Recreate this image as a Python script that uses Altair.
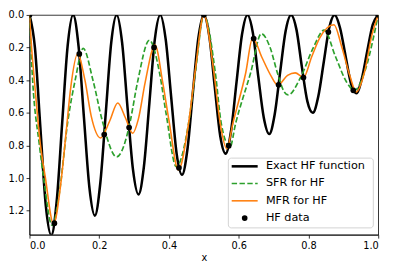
import altair as alt
import pandas as pd

# ---- data ----
x_exact = [0.0, 0.0156, 0.0312, 0.0469, 0.0625, 0.0781, 0.0938, 0.1094,
           0.125, 0.1406, 0.1562, 0.1719, 0.1875, 0.2031, 0.2188, 0.2344,
           0.25, 0.2656, 0.2812, 0.2969, 0.3125, 0.3281, 0.3438, 0.3594,
           0.375, 0.3906, 0.4062, 0.4219, 0.4375, 0.4531, 0.4688, 0.4844,
           0.5, 0.5156, 0.5312, 0.5469, 0.5625, 0.5781, 0.5938, 0.6094,
           0.625, 0.6406, 0.6562, 0.6719, 0.6875, 0.7031, 0.7188, 0.7344,
           0.75, 0.7656, 0.7812, 0.7969, 0.8125, 0.8281, 0.8438, 0.8594,
           0.875, 0.8906, 0.9062, 0.9219, 0.9375, 0.9531, 0.9688, 0.9844,
           1.0]
y_exact = [0, 0.20, 0.69, 1.17, 1.35, 1.14, 0.66, 0.19,
           0, 0.19, 0.63, 1.06, 1.23, 1.03, 0.60, 0.17,
           0, 0.17, 0.57, 0.95, 1.10, 0.93, 0.54, 0.15,
           0, 0.15, 0.50, 0.85, 0.98, 0.82, 0.47, 0.14,
           0, 0.13, 0.44, 0.74, 0.85, 0.71, 0.41, 0.12,
           0, 0.11, 0.38, 0.63, 0.73, 0.61, 0.35, 0.10,
           0, 0.09, 0.32, 0.53, 0.60, 0.50, 0.29, 0.08,
           0, 0.08, 0.25, 0.42, 0.48, 0.39, 0.22, 0.06,
           0]

x_sfr = [0.0, 0.004, 0.009, 0.028, 0.040, 0.065, 0.085, 0.11, 0.131, 0.154,
         0.182, 0.209, 0.25, 0.278, 0.289, 0.31, 0.344, 0.373, 0.392, 0.421,
         0.456, 0.477, 0.5, 0.533, 0.55, 0.575, 0.591, 0.634, 0.665, 0.69,
         0.711, 0.73, 0.742, 0.777, 0.814, 0.845, 0.878, 0.91, 0.932, 0.96,
         0.992, 1.0]
y_sfr = [0.0, 0.2, 0.40, 0.79, 0.99, 1.29, 1.10, 0.65, 0.40, 0.205,
         0.40, 0.65, 0.87, 0.75, 0.65, 0.41, 0.155, 0.356, 0.608, 0.93,
         0.666, 0.33, 0.0, 0.356, 0.666, 0.81, 0.666, 0.356, 0.115, 0.2,
         0.356, 0.47, 0.49, 0.385, 0.2, 0.093, 0.258, 0.414, 0.462, 0.356,
         0.083, 0.0]

x_mfr = [0.0, 0.006, 0.014, 0.031, 0.045, 0.069, 0.09, 0.105, 0.118, 0.138,
         0.159, 0.177, 0.204, 0.23, 0.253, 0.275, 0.296, 0.312, 0.332, 0.36,
         0.382, 0.40, 0.427, 0.456, 0.476, 0.5, 0.529, 0.547, 0.566, 0.583,
         0.62, 0.64, 0.666, 0.693, 0.712, 0.74, 0.762, 0.786, 0.809, 0.832,
         0.873, 0.896, 0.919, 0.937, 0.96, 0.982, 1.0]
y_mfr = [0.0, 0.2, 0.40, 0.79, 0.99, 1.28, 1.03, 0.72, 0.45, 0.24,
         0.40, 0.62, 0.754, 0.65, 0.54, 0.63, 0.725, 0.64, 0.41, 0.184,
         0.414, 0.647, 0.95, 0.666, 0.33, 0.0, 0.356, 0.666, 0.82, 0.666,
         0.356, 0.14, 0.258, 0.375, 0.43, 0.37, 0.355, 0.383, 0.258, 0.142,
         0.06, 0.2, 0.375, 0.472, 0.356, 0.122, 0.0]

x_data = [0.0, 0.0714, 0.1429, 0.2143, 0.2857, 0.3571, 0.4286, 0.5,
          0.5714, 0.6429, 0.7143, 0.7857, 0.8571, 0.9286, 1.0]
y_data = [0.0, 1.276, 0.239, 0.733, 0.690, 0.199, 0.937, 0.0,
          0.801, 0.145, 0.428, 0.384, 0.105, 0.462, 0.0]

legend_labels = ["Exact HF function", "SFR for HF", "MFR for HF", "HF data"]
x_ticks = [0.0, 0.2, 0.4, 0.6, 0.8, 1.0]
y_ticks = [0.0, 0.2, 0.4, 0.6, 0.8, 1.0, 1.2]

FONT = "DejaVu Sans"
W, H = 357, 225

df_exact = pd.DataFrame({"x": x_exact, "y": y_exact})
df_sfr = pd.DataFrame({"x": x_sfr, "y": y_sfr})
df_mfr = pd.DataFrame({"x": x_mfr, "y": y_mfr})
df_data = pd.DataFrame({"x": x_data, "y": y_data})

xs = alt.Scale(domain=[0, 1], nice=False, zero=False)
ys = alt.Scale(domain=[0, 1.347], reverse=True, nice=False, zero=False)
xax = alt.Axis(values=x_ticks, format=".1f", title="x")
yax = alt.Axis(values=y_ticks, format=".1f", title=None)

X = alt.X("x:Q", scale=xs, axis=xax)
Y = alt.Y("y:Q", scale=ys, axis=yax)

exact = alt.Chart(df_exact).mark_line(
    color="black", strokeWidth=2.6, interpolate="monotone", clip=True
).encode(x=X, y=Y)
sfr = alt.Chart(df_sfr).mark_line(
    color="#2ca02c", strokeWidth=1.7, strokeDash=[5.5, 2.5],
    interpolate="monotone", clip=True
).encode(x=X, y=Y)
mfr = alt.Chart(df_mfr).mark_line(
    color="#ff7f0e", strokeWidth=1.6, interpolate="monotone", clip=True
).encode(x=X, y=Y)
pts = alt.Chart(df_data).mark_point(
    filled=True, color="black", size=34, opacity=1, clip=True
).encode(x=X, y=Y)

# ---- legend (drawn as decorations) ----
one = pd.DataFrame({"k": [0]})
bx0, bx1, by0, by1 = 203.6, 352, 146.6, 218
rows = [155.0, 172.6, 190.3, 208.0]
sx0, sx1, tx = bx0 + 3.4, bx0 + 30, bx0 + 38.4

legend_layers = [
    alt.Chart(one).mark_rect(
        fill="white", stroke="#cccccc", strokeWidth=1, cornerRadius=3, opacity=0.85
    ).encode(x=alt.value(bx0), x2=alt.value(bx1), y=alt.value(by0), y2=alt.value(by1)),
    alt.Chart(one).mark_rule(color="black", strokeWidth=2.6).encode(
        x=alt.value(sx0), x2=alt.value(sx1), y=alt.value(rows[0])),
    alt.Chart(one).mark_rule(color="#2ca02c", strokeWidth=1.7, strokeDash=[5.5, 2.5]).encode(
        x=alt.value(sx0), x2=alt.value(sx1), y=alt.value(rows[1])),
    alt.Chart(one).mark_rule(color="#ff7f0e", strokeWidth=1.6).encode(
        x=alt.value(sx0), x2=alt.value(sx1), y=alt.value(rows[2])),
    alt.Chart(one).mark_point(filled=True, color="black", size=34, opacity=1).encode(
        x=alt.value((sx0 + sx1) / 2), y=alt.value(rows[3])),
]
for lab, ry in zip(legend_labels, rows):
    legend_layers.append(
        alt.Chart(one).mark_text(
            align="left", baseline="middle", font=FONT, fontSize=11.5, color="black"
        ).encode(x=alt.value(tx), y=alt.value(ry), text=alt.value(lab))
    )

chart = alt.layer(exact, sfr, mfr, pts, *legend_layers).properties(
    width=W, height=H,
    autosize="none",
    padding={"left": 22, "top": 4, "right": 9, "bottom": 32},
).configure_view(
    stroke="black", strokeWidth=0.8
).configure_axis(
    grid=False, labelFont=FONT, labelFontSize=10, titleFont=FONT,
    titleFontSize=10, titleFontWeight="normal", labelColor="black",
    titleColor="black", domainColor="black", tickColor="black",
    domainWidth=0.8, tickWidth=0.8, tickSize=3.5, labelPadding=2.5,
    titlePadding=2
)

chart.save("out.html", embed_options={"renderer": "svg", "actions": False})
